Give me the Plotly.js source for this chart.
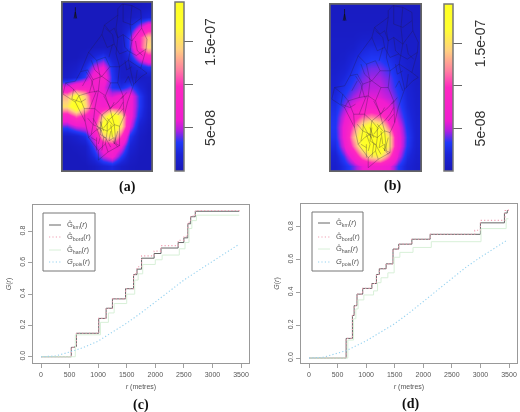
<!DOCTYPE html>
<html><head><meta charset="utf-8">
<script src="https://cdn.plot.ly/plotly-3.0.1.min.js"></script>
<style>html,body{margin:0;padding:0;background:#fff}#p{width:520px;height:412px;filter:blur(.35px)}</style></head>
<body><div id="p"></div>
<script>
// Intensity (units of 1e-8), rows top to bottom
const intensityA = [
[.3,.3,.3,.3,.3,.3,.3,.3,.5,.8],
[.3,.3,.3,.3,.3,.3,.3,.7,1.2,2],
[.3,.3,.3,.3,.3,.3,.6,2,5,7.5],
[.3,.3,.3,.3,.3,.3,.8,4,9.5,13.5],
[.3,.3,.3,.5,.6,.6,.8,4,9.5,14.5],
[.3,.3,.8,2.2,3.2,1.5,.8,2.5,6,8.5],
[.6,1,2.4,5,6,2.8,.8,.8,2.2,3.2],
[1,1.8,3.6,7,7.5,3.2,1,.7,.7,1],
[6,8,8,7,6,3.2,2.6,4,2,.8],
[13,17.5,14,7,6,5.5,6.5,6.5,3.4,1],
[15,19.6,15,8,7,8.5,8.5,6.5,3.4,1],
[8,11,9,7,14,19,15,6.5,2.8,.8],
[4,5.5,6,9,18,19.6,15,5.5,1.6,.5],
[.8,1.4,2.6,6,14,16,10,3,.9,.3],
[.3,.6,1,4,7,8,6,1.8,.6,.3],
[.3,.3,.6,2.4,5.2,6.5,3.5,1,.4,.3],
[.3,.3,.3,.7,1.6,2.2,1,.5,.3,.3]];
const intensityB = [
[.6,.6,.6,.6,.6,.6,.6,.6,.6,.6],
[.7,.7,.7,.7,.7,.7,.7,.7,.7,.7],
[.8,.8,.8,.8,.8,.8,.8,.8,.8,.8],
[.9,.9,.9,1.2,1.3,1.3,1.2,.9,.9,.9],
[1,1,1.2,2,2.4,2.3,1.8,1.2,1,1],
[1,1.2,2,2.8,3.2,3.2,2.6,1.8,1.2,1],
[1.2,1.6,2.6,3.6,4.1,4.1,3.4,2.2,1.4,1],
[1.5,2.2,3.2,4.1,4.6,4.6,4,2.7,1.6,1],
[1.8,2.8,3.8,4.6,5,5,4.3,3.1,1.8,1.1],
[2.2,3.4,4.6,5.4,5.7,5.6,4.9,3.5,2,1.2],
[2.6,4.4,6,7,7.5,7,6,4,2.2,1.3],
[3,5.5,8,11,12,11,8,4.8,2.6,1.4],
[3.2,6.2,11,16,19,17,11,6,3,1.5],
[3,6.2,13,18,19.6,19.6,15,6.5,3.4,1.5],
[2.4,5.6,11,17,19.6,19.6,15,6.5,3.2,1.4],
[1.6,3.8,7,12,15,16,11,5.4,2.4,1.2],
[1.2,2.5,4,5.8,7,7,6,3.4,1.7,1]];
const colorStops = [[0,'#1818b8'],[0.1,'#1a24d8'],[0.17,'#2038f8'],[0.24,'#b020e0'],[0.3,'#f01cd0'],[0.5,'#ff28c0'],[0.6,'#ff80a0'],[0.72,'#ffd080'],[0.85,'#ffff30'],[1,'#ffff20']];
const barTicks = [5,10,15];
const barLabels = ['5e-08','','1.5e-07'];
// Regional boundaries (map units, null = pen up)
const mapX = [69,80,90,91,97,96,90,97,91,82,75,71,66,66,53,42,42,31,27,20,16,2,5,16,22,31,46,49,64,64,69,null,
49,55,60,64,70,80,91,null,46,52,60,66,75,85,96,null,64,62,64,62,66,64,70,71,null,80,78,80,76,80,82,null,
31,40,50,55,66,76,90,null,22,30,36,46,55,null,36,32,20,16,null,40,44,42,50,56,64,null,46,56,null,
5,14,20,26,27,null,32,42,null,42,38,46,55,50,null,55,64,70,null,26,38,null,46,44,52,60,66,null,55,60,null,
31,38,44,null,52,50,53,null,42,50,null,60,62,66,null,70,70,80,90,null,30,36,34,null,38,36,44,null,46,52,60,null,52,52,null,
70,72,76,null,84,86,92,null,72,74,80,null,86,84,null,60,58,50,null,54,58,null,34,38,46,null,28,34,38,null,24,30,null,
14,12,22,28,null,40,36,32,null,48,52,56,60,null,60,66,70,null,44,48,46,null,36,42,46,null,40,44,42,null,48,50,56,null,56,54,60,null,58,64,null,
72,76,80,null,68,74,null,64,70,null,46,44,50,null,48,54,null,34,40,null,40,40,null,44,48,null,52,58,null,56,58,null,60,60,64];
const mapY = [1,2,5,16,23,29,41,44,46,51,62,71,77,89,93,98,92,84,74,66,62,57,50,49,43,31,20,14,8,4,1,null,
14,18,16,22,20,24,16,null,20,28,26,32,30,33,29,null,8,16,22,32,40,50,58,71,null,2,14,24,36,46,51,null,
31,36,34,40,40,36,41,null,43,42,48,46,40,null,48,56,58,62,null,36,46,55,58,50,50,null,46,50,null,
50,54,58,66,74,null,56,55,null,55,66,70,66,58,null,66,62,58,null,66,66,null,70,78,80,76,77,null,66,76,null,
84,80,78,null,80,88,93,null,92,88,null,76,88,89,null,1,12,14,10,null,72,76,82,null,66,76,78,null,70,74,70,null,74,80,null,
20,28,30,null,24,30,33,null,36,42,40,null,42,50,null,26,20,16,null,34,26,null,36,42,46,null,43,48,56,null,52,46,null,
54,60,62,60,null,55,60,66,null,58,62,66,62,null,70,66,62,null,78,84,92,null,72,78,80,null,78,84,88,null,84,84,90,null,80,86,84,null,86,90,null,
50,46,52,null,60,56,null,70,66,null,74,82,84,null,78,74,null,84,86,null,84,92,null,74,80,null,72,76,null,76,84,null,84,88,80];
const arrowX = [16,16,null,14.5,16,17.5];
const arrowY = [3,10,null,10,6,10];

const seriesLabels=['\u011C<sub>km</sub>(<i>r</i>)','\u011C<sub>bord</sub>(<i>r</i>)','\u011C<sub>han</sub>(<i>r</i>)','<i>G</i><sub>pois</sub>(<i>r</i>)'];
// Panel (c)
const rKmC=[0,530,590,620,1010,1140,1250,1480,1620,1680,1760,1980,2100,2400,2500,2570,2620,2700,3470];
const gKmC=[0,.06,.065,.15,.245,.31,.37,.435,.525,.56,.63,.66,.695,.73,.76,.85,.895,.93,.93];
const rBordC=[0,530,590,620,1010,1140,1250,1480,1620,1680,1760,1980,2100,2400,2500,2570,2620,2700,3470];
const gBordC=[0,.06,.065,.15,.245,.31,.37,.435,.53,.575,.645,.675,.71,.745,.77,.86,.9,.935,.925];
const rHanC=[0,600,1040,1180,1280,1500,1640,1700,1780,2000,2120,2420,2520,2590,2640,2720,3470];
const gHanC=[0,.14,.22,.28,.34,.40,.49,.53,.59,.62,.65,.69,.73,.82,.87,.905,.905];
const rPoisC=[0,250,500,750,1000,1250,1500,1750,2000,2250,2500,2750,3000,3250,3470];
const gPoisC=[0,.005,.03,.06,.10,.155,.215,.28,.35,.42,.49,.55,.61,.665,.72];
// Panel (d)
const rKmD=[0,650,760,790,840,940,1100,1180,1230,1350,1470,1570,1800,2120,3000,3420,3470,3490];
const gKmD=[0,.12,.26,.32,.39,.425,.455,.51,.545,.575,.665,.695,.725,.755,.825,.885,.90,.90];
const rBordD=[0,650,760,790,840,940,1100,1180,1230,1350,1470,1570,1800,2120,2900,3000,3430,3490];
const gBordD=[0,.12,.26,.32,.39,.425,.455,.51,.545,.575,.665,.695,.725,.755,.78,.84,.90,.91];
const rHanD=[0,680,780,820,860,960,1130,1200,1260,1380,1490,1590,1820,2140,3010,3450,3490];
const gHanD=[0,.11,.24,.30,.355,.385,.41,.46,.49,.52,.615,.645,.675,.71,.79,.85,.85];
const rPoisD=[0,250,500,650,1000,1250,1500,1750,2000,2250,2500,2750,3000,3250,3470];
const gPoisD=[0,.005,.03,.045,.105,.155,.21,.275,.345,.415,.49,.555,.615,.67,.72];
const xTicks=[0,500,1000,1500,2000,2500,3000,3500];
const yTicks=[0,.2,.4,.6,.8];

const W=520,H=412;
const dx=(a,b)=>[a/W,b/W], dy=(top,bot)=>[1-bot/H,1-top/H];
const traces=[], shapes=[], notes=[];
const ZMAX=19.6;
function heat(z,xr,yr,xa,ya,barLeft,barTop,barBot,labelX){
  const n=z[0].length,m=z.length;
  const xs=z[0].map((_,i)=>xr[0]+(i+.5)/n*(xr[1]-xr[0]));
  const ys=z.map((_,j)=>yr[0]+(j+.5)/m*(yr[1]-yr[0]));
  traces.push({type:'heatmap',z:z,x:xs,y:ys,xaxis:xa,yaxis:ya,zmin:0,zmax:ZMAX,zsmooth:'best',colorscale:colorStops,hoverinfo:'skip',
    colorbar:{x:barLeft/W,xanchor:'left',xpad:0,ypad:0,y:1-barBot/H,yanchor:'bottom',lenmode:'fraction',len:(barBot-barTop)/H,thickness:9,thicknessmode:'pixels',
      outlinecolor:'#777',outlinewidth:1.5,tickmode:'array',tickvals:barTicks,ticktext:barLabels,ticks:'outside',ticklen:9,tickcolor:'#666',tickwidth:1,showticklabels:false}});
  traces.push({type:'scatter',mode:'lines',x:mapX,y:mapY,xaxis:xa,yaxis:ya,showlegend:false,hoverinfo:'skip',connectgaps:false,line:{color:'rgba(35,25,60,.5)',width:.6}});
  traces.push({type:'scatter',mode:'lines',x:arrowX,y:arrowY,xaxis:xa,yaxis:ya,showlegend:false,hoverinfo:'skip',connectgaps:false,line:{color:'#111',width:.7}});
  barLabels.forEach((t,i)=>{ if(t) notes.push({text:t,textangle:-90,xref:'paper',yref:'paper',x:labelX/W,
    y:1-(barBot-(barBot-barTop)*barTicks[i]/ZMAX)/H,xanchor:'center',yanchor:'middle',showarrow:false,font:{family:'Liberation Sans',size:14,color:'#333'}}); });
}
const styles=[['#666',1,'solid'],['#f0a0b4',1.1,'1.2px,2.2px'],['#d8f0d8',1,'solid'],['#96d2f0',1.1,'1.2px,2.2px']];
function curves(sets,xa,ya,box,rowY){
  sets.forEach((s,i)=>traces.push({type:'scatter',mode:'lines',x:s[0],y:s[1],name:seriesLabels[i].replace(/<[^>]+>/g,''),xaxis:xa,yaxis:ya,showlegend:false,hoverinfo:'skip',
    line:{color:styles[i][0],width:styles[i][1],dash:styles[i][2],shape:i===3?'linear':'hv'}}));
  shapes.push({type:'rect',xref:'paper',yref:'paper',x0:box[0]/W,x1:box[1]/W,y0:1-box[3]/H,y1:1-box[2]/H,layer:'above',line:{color:'#777',width:1},fillcolor:'#fff'});
  rowY.forEach((y,i)=>{
    shapes.push({type:'line',xref:'paper',yref:'paper',x0:(box[0]+6)/W,x1:(box[0]+18)/W,y0:1-y/H,y1:1-y/H,layer:'above',line:{color:styles[i][0],width:styles[i][1],dash:styles[i][2]}});
    notes.push({text:seriesLabels[i],xref:'paper',yref:'paper',x:(box[0]+22)/W,y:1-y/H,xanchor:'left',yanchor:'middle',showarrow:false,font:{family:'Liberation Sans',size:7.5,color:'#555'}});
  });
}
heat(intensityA,[.87,102.7],[-.24,104.8],'x','y',175,2,171,210);
heat(intensityB,[0,100],[0,100],'x2','y2',444,4,171,480);
curves([[rKmC,gKmC],[rBordC,gBordC],[rHanC,gHanC],[rPoisC,gPoisC]],'x3','y3',[43,95,213,271],[225,237,250,262]);
curves([[rKmD,gKmD],[rBordD,gBordD],[rHanD,gHanD],[rPoisD,gPoisD]],'x4','y4',[312,363,212,271],[223,237,249,262]);
const frame={showline:true,mirror:true,linecolor:'#666',linewidth:1.2,showgrid:false,zeroline:false};
const mapAx=(dom,range,anchor)=>Object.assign({},frame,{domain:dom,range:range,anchor:anchor,showticklabels:false,ticks:''});
const tf={family:'Liberation Sans',size:7,color:'#555'};
const xAx=(dom,range,anchor)=>Object.assign({},frame,{domain:dom,range:range,anchor:anchor,linecolor:'#999',tickmode:'array',tickvals:xTicks,ticks:'outside',ticklen:4,tickcolor:'#888',tickwidth:.8,tickfont:tf,
  title:{text:'<i>r</i> (metres)',font:tf,standoff:7}});
const yAx=(dom,range,anchor)=>Object.assign({},frame,{domain:dom,range:range,anchor:anchor,linecolor:'#999',tickmode:'array',tickvals:yTicks,tickformat:'.1f',ticks:'outside',ticklen:4,tickcolor:'#888',tickwidth:.8,tickfont:tf,tickangle:-90,
  title:{text:'<i>G</i>(<i>r</i>)',font:tf,standoff:6}});
const lab=(t,x,y)=>({text:t,xref:'paper',yref:'paper',x:x/W,y:1-y/H,xanchor:'center',yanchor:'middle',showarrow:false,font:{family:'Liberation Serif',size:14,color:'#111',weight:700}});
const box=(l,r,t,b)=>({type:'rect',xref:'paper',yref:'paper',x0:l/W,x1:r/W,y0:1-b/H,y1:1-t/H,layer:'above',line:{color:'#666',width:1.5},fillcolor:'rgba(0,0,0,0)'});
shapes.push(box(62,152,2,171),box(330,421,4,171));
notes.push(lab('(a)',127,187),lab('(b)',392,186),lab('(c)',141,405),lab('(d)',410,404));
const layout={width:W,height:H,margin:{l:0,r:0,t:0,b:0,pad:0},paper_bgcolor:'#fff',plot_bgcolor:'#fff',showlegend:false,
  xaxis:mapAx(dx(62,152),[.87,102.7],'y'),yaxis:mapAx(dy(2,171),[104.8,-.24],'x'),
  xaxis2:mapAx(dx(330,421),[0,100],'y2'),yaxis2:mapAx(dy(4,171),[100,0],'x2'),
  xaxis3:xAx(dx(33,249),[-140,3640],'y3'),yaxis3:yAx(dy(205,363),[-.04,.97],'x3'),
  xaxis4:xAx(dx(301,517),[-140,3640],'y4'),yaxis4:yAx(dy(204,363),[-.03,.94],'x4'),
  shapes:shapes,annotations:notes};
Plotly.newPlot('p',traces,layout,{displayModeBar:false,staticPlot:true});
</script></body></html>
